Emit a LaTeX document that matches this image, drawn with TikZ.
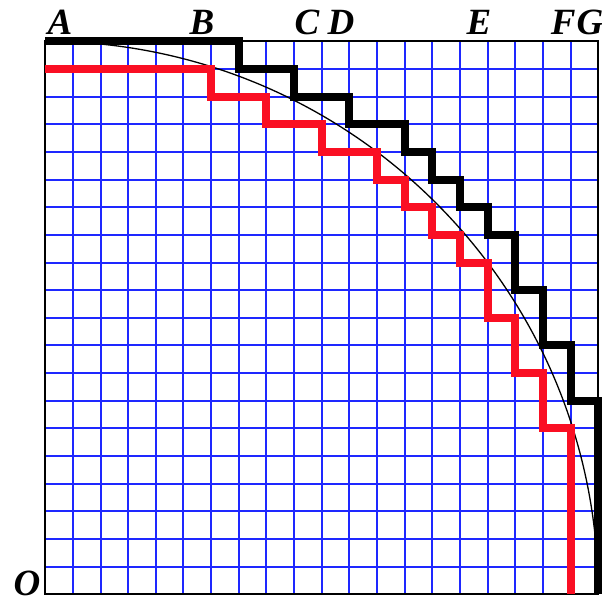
\documentclass[tikz,border=0pt]{standalone}
\usepackage{fontspec}
\setmainfont{Liberation Serif}
\definecolor{gridblue}{RGB}{30,40,255}
\definecolor{stepred}{RGB}{250,15,35}
\tikzset{
  gridline/.style={draw=gridblue, line width=2pt},
  border/.style={draw=black, line width=2pt},
  upperstair/.style={draw=black, line width=8pt, line join=miter},
  lowerstair/.style={draw=stepred, line width=8pt, line join=miter},
  arcline/.style={draw=black, line width=1.3pt},
  lab/.style={font=\fontsize{37}{40}\selectfont\bfseries\itshape, anchor=base, inner sep=0pt}
}
\begin{document}
\begin{tikzpicture}[x=27.65pt, y=27.65pt]
\useasboundingbox (-1.635,-0.2785) rectangle (20.137,21.494);
% grid
\foreach \i in {1,...,19} {
  \draw[gridline] (\i,0) -- (\i,20);
  \draw[gridline] (0,\i) -- (20,\i);
}
\draw[border] (0,0) rectangle (20,20);
% circle arc
\draw[arcline] (0,20) arc[start angle=90, end angle=0, radius=20];
% lower staircase (red)
\draw[lowerstair] (0,19) -- (6,19) -- (6,18) -- (8,18) -- (8,17) -- (10,17) -- (10,16)
  -- (12,16) -- (12,15) -- (13,15) -- (13,14) -- (14,14) -- (14,13) -- (15,13)
  -- (15,12) -- (16,12) -- (16,10) -- (17,10) -- (17,8) -- (18,8) -- (18,6)
  -- (19,6) -- (19,0);
% upper staircase (black)
\draw[upperstair] (0,20) -- (7,20) -- (7,19) -- (9,19) -- (9,18) -- (11,18) -- (11,17)
  -- (13,17) -- (13,16) -- (14,16) -- (14,15) -- (15,15) -- (15,14) -- (16,14)
  -- (16,13) -- (17,13) -- (17,11) -- (18,11) -- (18,9) -- (19,9) -- (19,7)
  -- (20,7) -- (20,0);
% labels
\node[lab] (A) at (0.535,20.246) {A};
\node[lab] (B) at (5.671,20.246) {B};
\node[lab] (C) at (9.468,20.246) {C};
\node[lab] (D) at (10.698,20.246) {D};
\node[lab] (E) at (15.69,20.246) {E};
\node[lab] (F) at (18.73,20.246) {F};
\node[lab] (G) at (19.70,20.246) {G};
\node[lab] (O) at (-0.658,-0.04) {O};
\end{tikzpicture}
\end{document}
